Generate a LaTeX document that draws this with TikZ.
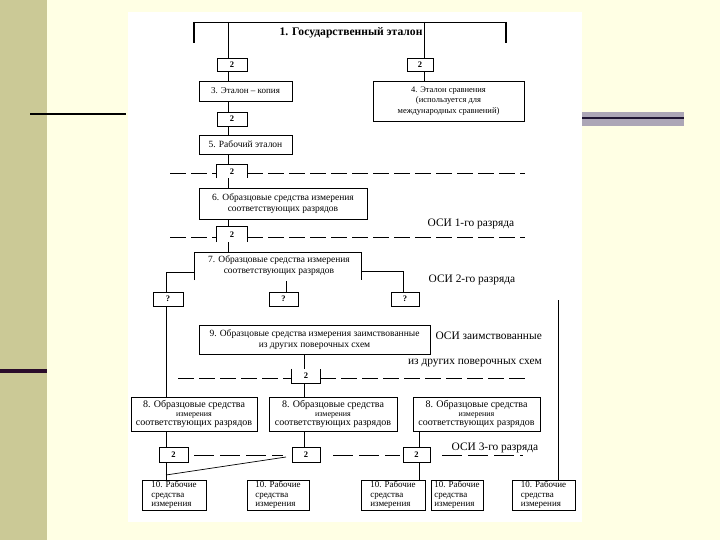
\documentclass[tikz,border=0pt]{standalone}
\usepackage{fontspec}
\setmainfont{Liberation Serif}
\usetikzlibrary{calc}
\definecolor{bgcream}{RGB}{255,255,228}
\definecolor{olive}{RGB}{203,201,150}
\definecolor{darkbar}{RGB}{42,12,42}
\definecolor{graybar}{RGB}{172,166,182}
\definecolor{darkline}{RGB}{30,20,50}
\tikzset{
  box/.style={draw, line width=0.7pt, inner sep=0pt, align=center, font=\fontsize{9.5}{10.5}\selectfont},
  num/.style={box, font=\fontsize{8.5}{10}\selectfont\bfseries},
  openbox/.style={inner sep=0pt, font=\fontsize{8.5}{10}\selectfont\bfseries},
  txt/.style={inner sep=0pt, align=center, font=\fontsize{9.5}{10.5}\selectfont},
  hd/.style={inner sep=0pt, font=\fontsize{11.6}{13}\selectfont\bfseries},
  osi/.style={inner sep=0pt, font=\fontsize{11.4}{12}\selectfont},
  conn/.style={line width=0.7pt},
  dsh/.style={line width=0.7pt, dash pattern=on 16pt off 5pt},
  wbox/.style={box, align=left, minimum height=30, font=\fontsize{9}{9.7}\selectfont},
  ebox/.style={box, minimum height=34, font=\fontsize{10}{10}\selectfont},
}
\begin{document}
\begin{tikzpicture}[x=1pt,y=-1pt]
\useasboundingbox (0,0) rectangle (720,540);
% background
\fill[bgcream] (0,0) rectangle (720,540);
\fill[olive] (0,0) rectangle (47,540);
\fill[darkbar] (0,369) rectangle (47,373);
\fill[white] (128,12) rectangle (582,522);
\fill[graybar] (582,112) rectangle (684,126);
\draw[darkline, line width=1.5pt] (582,118) -- (684,118);
\draw[black, line width=2pt] (30,114) -- (126,114);

% column coordinates
\coordinate (cA) at (228,0);
\coordinate (cB) at (424,0);
\coordinate (cL) at (166,0);
\coordinate (cR) at (403,0);
\coordinate (cM) at (304,0);
\coordinate (cR3) at (419,0);

% 1 heading bracket
\coordinate (tl) at (194,22);
\coordinate (tr) at (506,22);
\node[hd] (t1) at (351,33) {1. Государственный эталон};
\draw[conn] (tl) -- (tr);
\draw[line width=1.4pt] (tl) -- ++(0,21);
\draw[line width=1.4pt] (tr) -- ++(0,21);

% boxes
\node[num, minimum width=30, minimum height=13] (b2a) at (232,64.5) {2};
\node[num, minimum width=26, minimum height=13] (b2b) at (420,64.5) {2};
\node[box, minimum width=93, minimum height=20, font=\fontsize{9}{10}\selectfont] (b3) at (245.5,91) {3. Эталон – копия};
\node[box, minimum width=151, minimum height=40, font=\fontsize{8.5}{10.3}\selectfont] (b4) at (448.5,101) {4. Эталон сравнения\\(используется для\\международных сравнений)};
\node[num, minimum width=30, minimum height=14] (b2c) at (232,119) {2};
\node[box, minimum width=93, minimum height=19] (b5) at (245.5,144.5) {5. Рабочий эталон};
\node[openbox, minimum width=30, minimum height=13] (b2d) at (232,171.5) {2};
\node[box, minimum width=168, minimum height=31] (b6) at (283,203.5) {6. Образцовые средства измерения\\соответствующих разрядов};
\node[openbox, minimum width=30, minimum height=15] (b2e) at (232,234.5) {2};
\node[txt] (b7) at (279,265.5) {7. Образцовые средства измерения\\соответствующих разрядов};
\node[num, minimum width=30, minimum height=14] (q1) at (168,299) {?};
\node[num, minimum width=29, minimum height=14] (q2) at (283.5,299) {?};
\node[num, minimum width=28, minimum height=14] (q3) at (405,299) {?};
\node[box, minimum width=231, minimum height=29] (b9) at (314.5,339.5) {9. Образцовые средства измерения заимствованные\\из других поверочных схем};
\node[openbox, minimum width=28, minimum height=14] (b2f) at (306,376) {2};
\node[ebox, minimum width=126] (b8a) at (194,414) {8. Образцовые средства\\[-1pt]{\fontsize{8}{8}\selectfont измерения}\\[-0.5pt]соответствующих разрядов};
\node[ebox, minimum width=128] (b8b) at (333,414) {8. Образцовые средства\\[-1pt]{\fontsize{8}{8}\selectfont измерения}\\[-0.5pt]соответствующих разрядов};
\node[ebox, minimum width=127] (b8c) at (476.5,414) {8. Образцовые средства\\[-1pt]{\fontsize{8}{8}\selectfont измерения}\\[-0.5pt]соответствующих разрядов};
\node[num, minimum width=29, minimum height=15] (z1) at (173.5,454.5) {2};
\node[num, minimum width=28, minimum height=15] (z2) at (306,454.5) {2};
\node[num, minimum width=27, minimum height=15] (z3) at (416.5,454.5) {2};
\node[wbox, minimum width=64] (r1) at (174,495) {10. Рабочие\\средства\\измерения};
\node[wbox, minimum width=62] (r2) at (278,495) {10. Рабочие\\средства\\измерения};
\node[wbox, minimum width=64] (r3) at (393,495) {10. Рабочие\\средства\\измерения};
\node[wbox, minimum width=52] (r4) at (457,495) {10. Рабочие\\средства\\измерения};
\node[wbox, minimum width=63] (r5) at (543.5,495) {10. Рабочие\\средства\\измерения};

% open boxes on dashed lines
\draw[conn] (b2d.south west) -- (b2d.north west) -- (b2d.north east) -- (b2d.south east);
\draw[conn] (b2e.south west) -- (b2e.north west) -- (b2e.north east) -- (b2e.south east);
\draw[conn] (b2f.north west) -- (b2f.south west) -- (b2f.south east) -- (b2f.north east);

% labels
\node[osi] (o1) at (471,224) {ОСИ 1-го разряда};
\node[osi] (o2) at (472,280) {ОСИ 2-го разряда};
\node[osi, anchor=east] (o9a) at (542,336) {ОСИ заимствованные};
\node[osi, anchor=east] (o9b) at (542,363) {из других поверочных схем};
\node[osi] (o3) at (495,448) {ОСИ 3-го разряда};

% connectors, left column
\draw[conn] (tl -| cA) -- (b2a.north -| cA);
\draw[conn] (b2a.south -| cA) -- (b3.north -| cA);
\draw[conn] (b3.south -| cA) -- (b2c.north -| cA);
\draw[conn] (b2c.south -| cA) -- (b5.north -| cA);
\draw[conn] (b5.south -| cA) -- (b2d.north -| cA);
\draw[conn] (b2d.south -| cA) -- (b6.north -| cA);
\draw[conn] (b6.south -| cA) -- (b2e.north -| cA);
% right column
\draw[conn] (tl -| cB) -- (b2b.north -| cB);
\draw[conn] (b2b.south -| cB) -- (b4.north -| cB);

% dashed lines
\coordinate (d1l) at (170,173); \coordinate (d1r) at (525,173);
\draw[dsh] (d1l) -- (d1l -| b2d.west);
\draw[dsh] (d1r -| b2d.east) -- (d1r);
\coordinate (d2l) at (170,237); \coordinate (d2r) at (525,237);
\draw[dsh] (d2l) -- (d2l -| b2e.west);
\draw[dsh] (d2r -| b2e.east) -- (d2r);
\coordinate (d3l) at (178,378); \coordinate (d3r) at (525,378);
\draw[dsh] (d3l) -- (d3l -| b2f.west);
\draw[dsh] (d3r -| b2f.east) -- (d3r);

% bracket of box 7
\coordinate (s7l) at (194,252);
\coordinate (s7r) at (361,252);
\draw[conn] (b2e.south -| cA) -- (s7l -| cA);
\draw[conn] ($(s7l)+(0,28)$) -- (s7l) -- (s7r) -- ($(s7r)+(0,28)$);
\draw[conn] ($(s7l)+(0,20)$) -| (q1.north -| cL);
\draw[conn] ($(s7r)+(0,19)$) -| (q3.north -| cR);
\coordinate (m7) at (286,281);
\draw[conn] (m7) -- (q2.north -| m7);
\draw[conn] (q1.south -| cL) -- (b8a.north -| cL);
\coordinate (rt) at (558,300);
\draw[conn] (rt) -- (r5.north -| rt);

% box 9 column
\draw[conn] (b9.south -| cM) -- (b2f.north -| cM);
\draw[conn] (b2f.south -| cM) -- (b8b.north -| cM);

% bottom level
\draw[conn] (b8a.south -| cL) -- (z1.north -| cL);
\draw[conn] (z1.south -| cL) -- (r1.north -| cL);
\draw[conn] (b8b.south -| cM) -- (z2.north -| cM);
\draw[conn] (b8c.south -| cR3) -- (z3.north -| cR3);
\draw[conn] (z3.south -| cR3) -- (r3.north -| cR3);
\coordinate (g1) at (166,475);
\coordinate (g2) at (286,457);
\draw[conn] (g1) -- (g2);
\coordinate (e1) at (194,455); \coordinate (e2) at (283,455);
\coordinate (e3) at (333,455); \coordinate (e4) at (400,455);
\coordinate (e5) at (442,455); \coordinate (e6) at (523,455);
\draw[dsh, dash pattern=on 20pt off 6pt] (e1) -- (e2);
\draw[dsh, dash pattern=on 20pt off 6pt] (e3) -- (e4);
\draw[dsh, dash pattern=on 20pt off 6pt] (e5) -- (e6);
\end{tikzpicture}
\end{document}
